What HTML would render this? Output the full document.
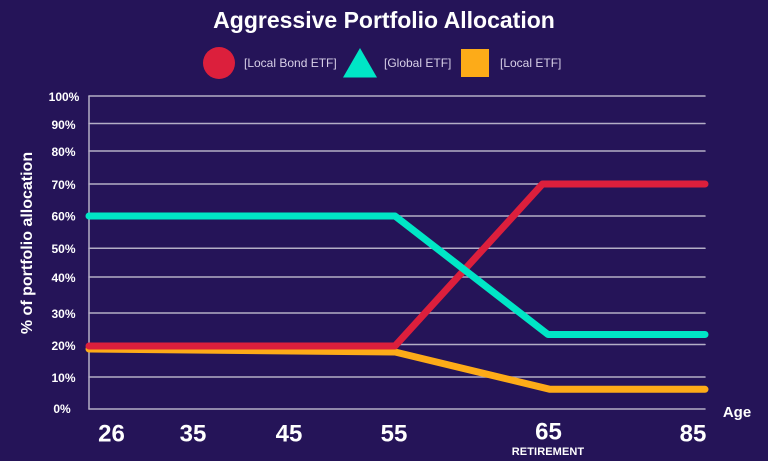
<!DOCTYPE html>
<html>
<head>
<meta charset="utf-8">
<style>
html,body{margin:0;padding:0;background:#251458;}
svg{display:block;}
text{font-family:"Liberation Sans",sans-serif;}
</style>
</head>
<body>
<svg width="768" height="461" viewBox="0 0 768 461" xmlns="http://www.w3.org/2000/svg">
<rect width="768" height="461" fill="#251458"/>
<text x="384" y="28" text-anchor="middle" font-size="23" font-weight="bold" fill="#ffffff">Aggressive Portfolio Allocation</text>

<!-- legend -->
<ellipse cx="219" cy="63" rx="16" ry="16" fill="#dc1f3c"/>
<text x="244" y="67" font-size="12" fill="#d8d0e8">[Local Bond ETF]</text>
<polygon points="360,48 377,77.5 343,77.5" fill="#00e6c6"/>
<text x="384" y="67" font-size="12" fill="#d8d0e8">[Global ETF]</text>
<rect x="461" y="49" width="28" height="28" fill="#fdab18"/>
<text x="500" y="67" font-size="12" fill="#d8d0e8">[Local ETF]</text>

<!-- gridlines -->
<g stroke="#b4aec6" stroke-width="1.5" stroke-linecap="round">
<line x1="89" y1="96" x2="705" y2="96"/>
<line x1="89" y1="123.5" x2="705" y2="123.5"/>
<line x1="89" y1="151" x2="705" y2="151"/>
<line x1="89" y1="184" x2="705" y2="184"/>
<line x1="89" y1="216" x2="705" y2="216"/>
<line x1="89" y1="248.3" x2="705" y2="248.3"/>
<line x1="89" y1="277" x2="705" y2="277"/>
<line x1="89" y1="313" x2="705" y2="313"/>
<line x1="89" y1="344.5" x2="705" y2="344.5"/>
<line x1="89" y1="377" x2="705" y2="377"/>
<line x1="89" y1="409" x2="705" y2="409"/>
<line x1="89" y1="96" x2="89" y2="409"/>
</g>

<!-- y labels -->
<g font-size="12" font-weight="bold" fill="#ffffff" text-anchor="middle">
<text x="64" y="101">100%</text>
<text x="63.5" y="129">90%</text>
<text x="63.5" y="156">80%</text>
<text x="63.5" y="189">70%</text>
<text x="63.5" y="220.5">60%</text>
<text x="63.5" y="253">50%</text>
<text x="63.5" y="282">40%</text>
<text x="63.5" y="318">30%</text>
<text x="63.5" y="350">20%</text>
<text x="63.5" y="382">10%</text>
<text x="62" y="413">0%</text>
</g>
<text transform="translate(32,243) rotate(-90)" text-anchor="middle" font-size="16" font-weight="bold" fill="#ffffff">% of portfolio allocation</text>

<!-- series -->
<g fill="none" stroke-width="7" stroke-linecap="round" stroke-linejoin="round">
<polyline points="89,349 395,352 550,389.3 705,389.3" stroke="#fdab18"/>
<polyline points="89,346 395,346 542.5,184 705,184" stroke="#dc1f3c"/>
<polyline points="89,216 395,216 548,334.5 705,334.5" stroke="#00e6c6"/>
</g>

<!-- x labels -->
<g font-size="24" font-weight="bold" fill="#ffffff" text-anchor="middle">
<text x="111.5" y="441.5">26</text>
<text x="193" y="441.5">35</text>
<text x="289" y="441.5">45</text>
<text x="394" y="441.5">55</text>
<text x="548.5" y="439.5">65</text>
<text x="693" y="441.5">85</text>
</g>
<text x="548" y="455" text-anchor="middle" font-size="11" font-weight="bold" fill="#ffffff" letter-spacing="0.1">RETIREMENT</text>
<text x="737" y="417" text-anchor="middle" font-size="15" font-weight="bold" fill="#ffffff">Age</text>
</svg>
</body>
</html>
